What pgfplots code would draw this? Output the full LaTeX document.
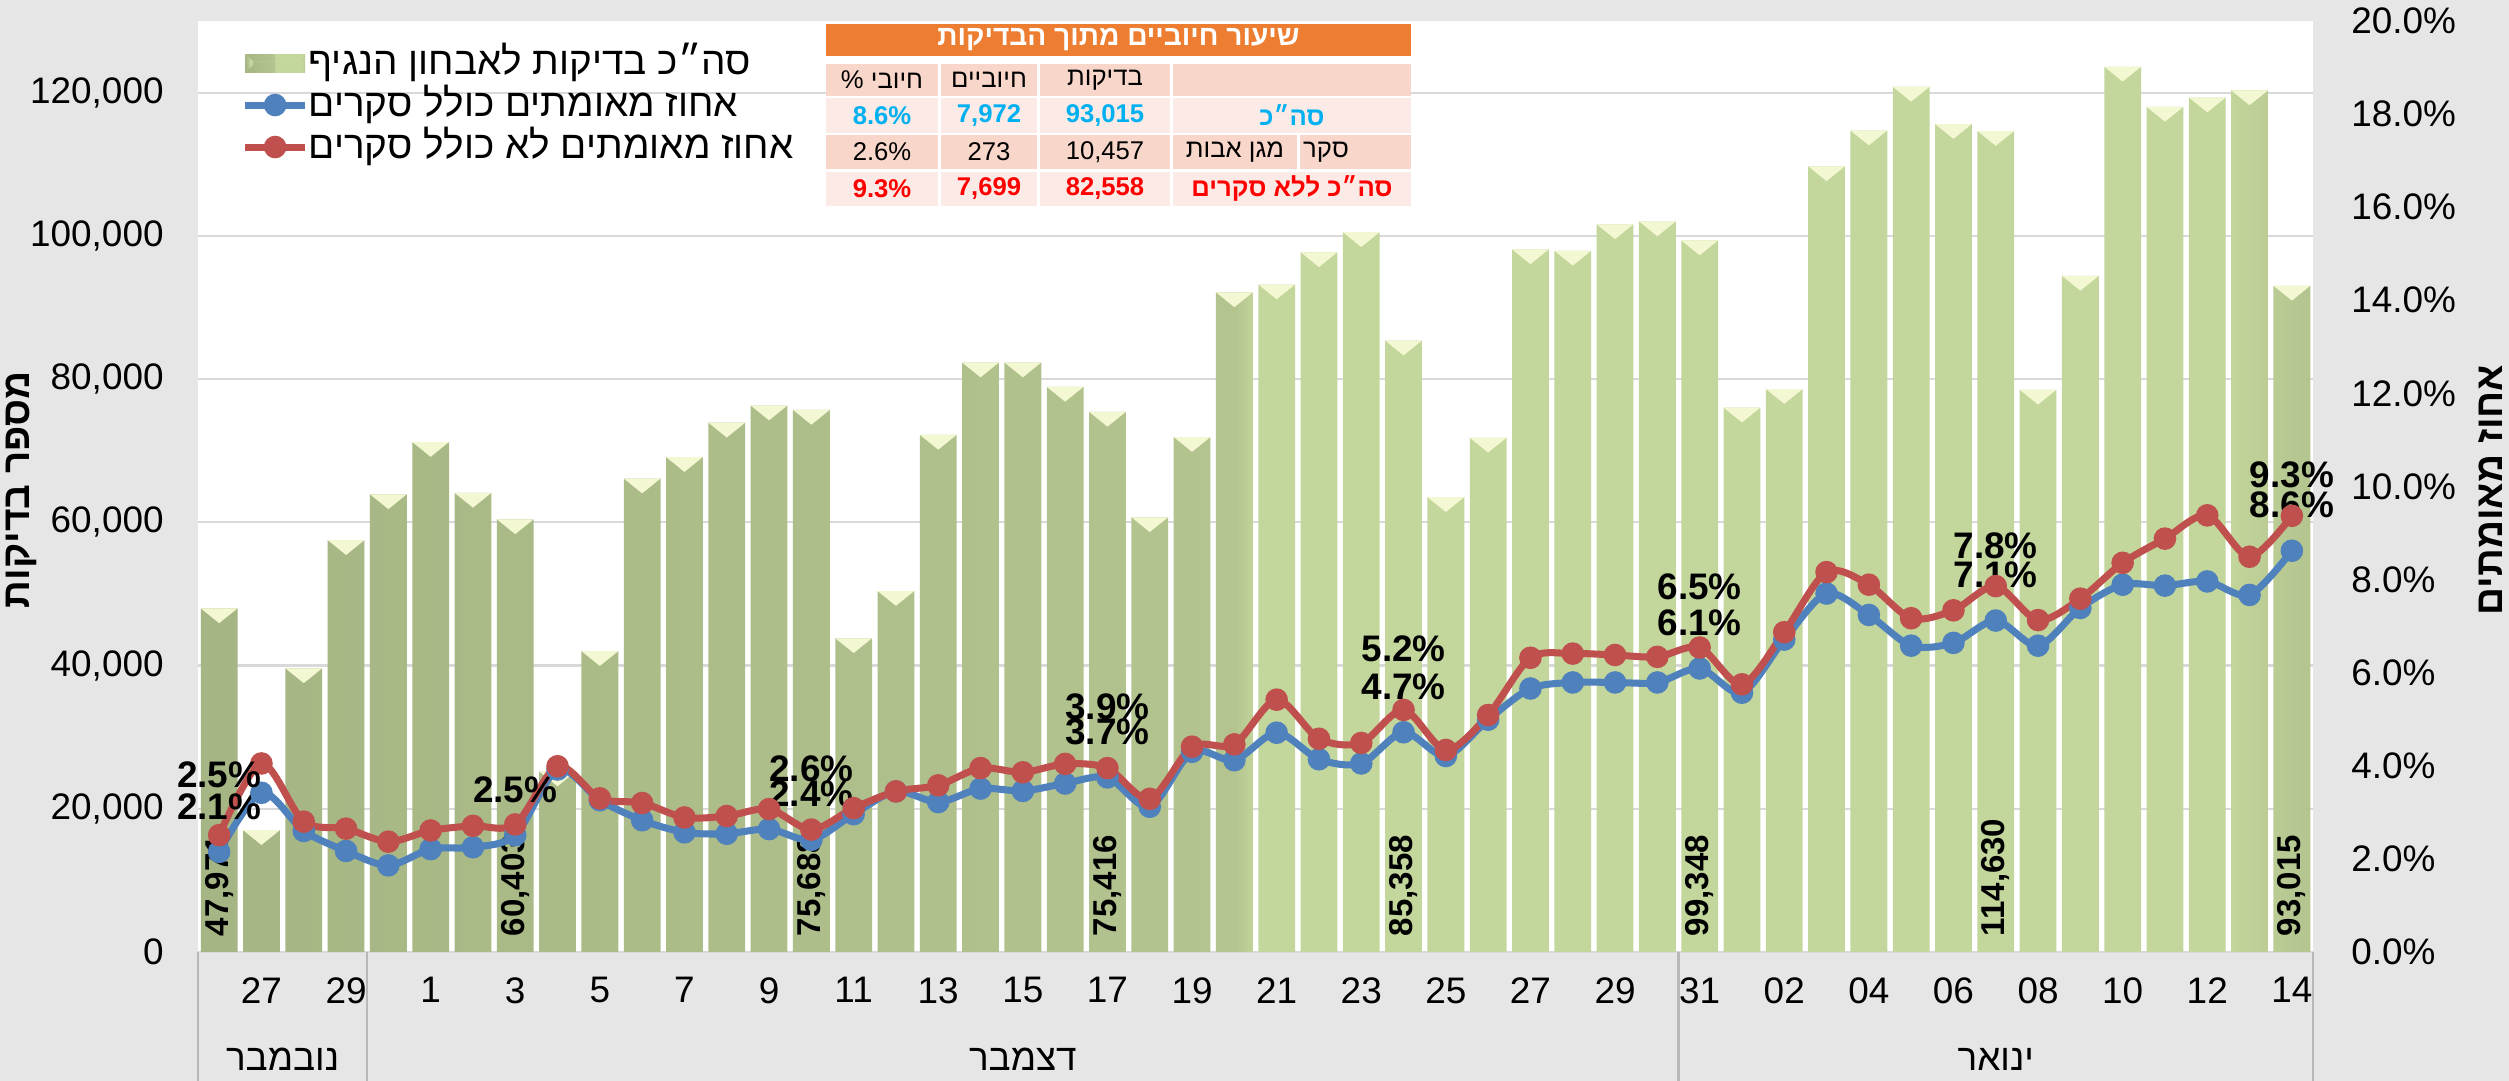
\documentclass[border=0pt]{standalone}
\usepackage{fontspec}
\setmainfont{Liberation Sans}
\newfontfamily\heb[Script=Hebrew]{Liberation Sans}
\usepackage{pgfplots}
\usepackage{pgfplotstable}
\pgfplotsset{compat=1.18}
\TeXXeTstate=1

\definecolor{bg}{HTML}{E6E6E6}
\definecolor{gridc}{HTML}{D9D9D9}
\definecolor{bardk}{HTML}{A5B684}
\definecolor{barmd}{HTML}{B3C48F}
\definecolor{barlt}{HTML}{C3D69B}
\definecolor{bevel}{HTML}{F4F8D2}
\definecolor{lblue}{HTML}{4F81BD}
\definecolor{lred}{HTML}{C0504D}
\definecolor{orng}{HTML}{ED7D31}
\definecolor{peach}{HTML}{F8D6CA}
\definecolor{pale}{HTML}{FBEAE5}
\definecolor{tblue}{HTML}{00B0F0}
\definecolor{tred}{HTML}{FF0000}

\pgfdeclarehorizontalshading{barshade}{100bp}{color(0bp)=(bardk); color(25bp)=(bardk); color(49.5bp)=(barmd); color(50bp)=(barlt); color(73bp)=(barlt); color(75bp)=(barmd); color(100bp)=(barmd)}

\pgfdeclareplotmark{bevel}{%
  \pgfpathmoveto{\pgfqpoint{-5.2pt}{0pt}}%
  \pgfpathlineto{\pgfqpoint{5.2pt}{0pt}}%
  \pgfpathlineto{\pgfqpoint{0pt}{-4.2pt}}%
  \pgfpathclose\pgfusepathqfill}

% tests per day, 26 Nov - 14 Jan
\pgfplotstableread{
i n
0 47971
1 17000
2 39600
3 57500
4 63900
5 71200
6 64100
7 60403
8 25200
9 42000
10 66100
11 69100
12 73900
13 76300
14 75688
15 43800
16 50400
17 72200
18 82300
19 82300
20 78900
21 75416
22 60700
23 71900
24 92100
25 93200
26 97700
27 100500
28 85358
29 63500
30 71800
31 98100
32 97900
33 101600
34 102000
35 99348
36 76000
37 78600
38 109700
39 114700
40 120800
41 115600
42 114630
43 78500
44 94400
45 123600
46 118000
47 119300
48 120300
49 93015
}\bars

\pgfplotstableread{
i y lab
0 0 47,971
7 0 60,403
14 0 75,688
21 0 75,416
28 0 85,358
35 0 99,348
42 0 114,630
49 0 93,015
}\barlabels

% percent positive incl. surveys
\pgfplotstableread{
i p lab
0 2.15 2.1\%
1 3.42 {}
2 2.60 {}
3 2.17 {}
4 1.86 {}
5 2.21 {}
6 2.25 {}
7 2.51 2.5\%
8 3.92 {}
9 3.26 {}
10 2.83 {}
11 2.57 {}
12 2.54 {}
13 2.64 {}
14 2.41 2.4\%
15 2.96 {}
16 3.45 {}
17 3.22 {}
18 3.51 {}
19 3.46 {}
20 3.62 {}
21 3.75 3.7\%
22 3.12 {}
23 4.30 {}
24 4.12 {}
25 4.71 {}
26 4.14 {}
27 4.05 {}
28 4.72 4.7\%
29 4.21 {}
30 4.99 {}
31 5.66 {}
32 5.79 {}
33 5.79 {}
34 5.79 {}
35 6.09 6.1\%
36 5.57 {}
37 6.71 {}
38 7.70 {}
39 7.24 {}
40 6.58 {}
41 6.64 {}
42 7.12 7.1\%
43 6.58 {}
44 7.39 {}
45 7.89 {}
46 7.87 {}
47 7.96 {}
48 7.67 {}
49 8.62 8.6\%
}\bluetab

% percent positive without surveys
\pgfplotstableread{
i p lab
0 2.51 2.5\%
1 4.05 {}
2 2.80 {}
3 2.65 {}
4 2.37 {}
5 2.61 {}
6 2.71 {}
7 2.74 {}
8 3.99 {}
9 3.30 {}
10 3.20 {}
11 2.89 {}
12 2.92 {}
13 3.07 {}
14 2.63 2.6\%
15 3.09 {}
16 3.45 {}
17 3.58 {}
18 3.95 {}
19 3.86 {}
20 4.04 {}
21 3.95 3.9\%
22 3.29 {}
23 4.41 {}
24 4.46 {}
25 5.42 {}
26 4.58 {}
27 4.49 {}
28 5.20 5.2\%
29 4.34 {}
30 5.09 {}
31 6.32 {}
32 6.41 {}
33 6.38 {}
34 6.34 {}
35 6.54 6.5\%
36 5.75 {}
37 6.87 {}
38 8.16 {}
39 7.89 {}
40 7.17 {}
41 7.34 {}
42 7.86 7.8\%
43 7.13 {}
44 7.59 {}
45 8.36 {}
46 8.88 {}
47 9.38 {}
48 8.49 {}
49 9.37 9.3\%
}\redtab

\pgfplotsset{
  base/.style={
    at={(1.98cm,1.29cm)}, anchor=south west,
    width=21.15cm, height=9.31cm, scale only axis,
    xmin=-0.5, xmax=49.5,
    axis line style={draw=none},
    major tick length=0pt,
    tick label style={font=\fontsize{10.5}{12}\selectfont},
    /pgf/number format/assume math mode=true,
  },
}
\tikzset{lbl/.style={font=\bfseries\fontsize{10.5}{12}\selectfont, black, anchor=south, inner sep=0pt}}

\begin{document}
\begin{tikzpicture}
\fill[bg] (0,0) rectangle (25.09,10.81);
\useasboundingbox (0,0) rectangle (25.09,10.81);

\begin{axis}[base,
  ymin=0, ymax=130000,
  axis background/.style={fill=white},
  ytick={0,20000,...,120000},
  ymajorgrids, major grid style={gridc, line width=0.6pt},
  scaled y ticks=false,
  /pgf/number format/fixed,
  /pgf/number format/1000 sep={,},
  yticklabel style={xshift=-0.22cm},
  xtick={1,3,...,49},
  xticklabels={27,29,1,3,5,7,9,11,13,15,17,19,21,23,25,27,29,31,02,04,06,08,10,12,14},
  xticklabel style={yshift=-0.13cm},
  clip=false,
  legend style={at={(0.0203,0.976)}, anchor=north west, draw=none, fill=none,
    font=\fontsize{11}{13}\selectfont, row sep=0.04cm, inner sep=0pt,
    nodes={inner sep=0pt, text height=0.3cm, text depth=0.08cm},
    /tikz/every even column/.append style={column sep=0.06cm}},
  legend cell align=left,
]
\addplot[ybar, bar width=0.87, draw=none, shading=barshade,
  legend image code/.code={
    \fill[barlt] (0cm,-0.09cm) rectangle (0.6cm,0.09cm);
    \fill[bardk] (0cm,-0.09cm) -- (0.08cm,-0.02cm) -- (0.08cm,0.02cm) -- (0cm,0.09cm) -- cycle;
    \fill[bevel] (0cm,0.09cm) -- (0.6cm,0.09cm) -- (0.52cm,0.02cm) -- (0.08cm,0.02cm) -- cycle;
  }] table[x=i, y=n] {\bars};
\addlegendentry{\heb\beginR סה״כ בדיקות לאבחון הנגיף\endR}
\addplot[forget plot, only marks, mark=bevel, color=bevel] table[x=i, y=n] {\bars};
\addplot[forget plot, draw=none, mark=none, nodes near coords, point meta=explicit symbolic,
  nodes near coords style={rotate=90, anchor=west, inner sep=0pt, inner xsep=0.15cm,
    font=\bfseries\fontsize{9.4}{11}\selectfont, black}]
  table[x=i, y=y, meta=lab] {\barlabels};
\addlegendimage{lblue, line width=2pt, mark=*, mark size=2.2pt}
\addlegendentry{\heb\beginR אחוז מאומתים כולל סקרים\endR}
\addlegendimage{lred, line width=2pt, mark=*, mark size=2.2pt}
\addlegendentry{\heb\beginR אחוז מאומתים לא כולל סקרים\endR}

\pgfplotsinvokeforeach{-0.5,3.5,34.5,49.5}{
  \draw[gridc!85!black, line width=0.6pt] (axis cs:#1,0) -- ([yshift=-1.29cm]axis cs:#1,0);
}
\node[font=\heb\fontsize{10.5}{12}\selectfont] at ([yshift=-1.07cm]axis cs:1.5,0) {\beginR נובמבר\endR};
\node[font=\heb\fontsize{10.5}{12}\selectfont] at ([yshift=-1.07cm]axis cs:19,0) {\beginR דצמבר\endR};
\node[font=\heb\fontsize{10.5}{12}\selectfont] at ([yshift=-1.07cm]axis cs:42,0) {\beginR ינואר\endR};
\end{axis}

\begin{axis}[base,
  ymin=0, ymax=20,
  axis y line*=right, axis x line=none,
  xtick=\empty,
  ytick={0,2,...,20},
  yticklabel={\pgfmathprintnumber[fixed, fixed zerofill, precision=1]{\tick}\%},
  yticklabel style={xshift=0.26cm},
  clip=false,
]
\addplot[lblue, line width=2pt, smooth, tension=0.5, mark=*, mark size=2.2pt,
  nodes near coords, point meta=explicit symbolic,
  nodes near coords style={lbl, yshift=0.29cm}]
  table[x=i, y=p, meta=lab] {\bluetab};
\addplot[lred, line width=2pt, smooth, tension=0.5, mark=*, mark size=2.2pt]
  table[x=i, y=p] {\redtab};
% red labels: higher above the point in December, lower in January
\addplot[forget plot, draw=none, mark=none, restrict x to domain=0:36,
  nodes near coords, point meta=explicit symbolic,
  nodes near coords style={lbl, yshift=0.47cm}]
  table[x=i, y=p, meta=lab] {\redtab};
\addplot[forget plot, draw=none, mark=none, restrict x to domain=37:49,
  nodes near coords, point meta=explicit symbolic,
  nodes near coords style={lbl, yshift=0.27cm}]
  table[x=i, y=p, meta=lab] {\redtab};
\end{axis}

% summary table
\fill[white] (8.26,10.57) rectangle (14.11,8.75);
\fill[orng] (8.26,10.57) rectangle (14.11,10.25);
\node[white, font=\heb\bfseries\fontsize{8}{10}\selectfont] at (11.185,10.41) {\beginR שיעור חיוביים מתוך הבדיקות\endR};
\foreach \ya/\yb/\c in {10.17/9.85/peach, 9.83/9.48/pale, 9.46/9.12/peach, 9.09/8.75/pale}{
  \fill[\c] (8.26,\ya) rectangle (9.38,\yb);
  \fill[\c] (9.41,\ya) rectangle (10.37,\yb);
  \fill[\c] (10.40,\ya) rectangle (11.70,\yb);
}
\fill[peach] (11.73,10.17) rectangle (14.11,9.85);
\fill[pale] (11.73,9.83) rectangle (14.11,9.48);
\fill[peach] (11.73,9.46) rectangle (12.97,9.12);
\fill[peach] (13.00,9.46) rectangle (14.11,9.12);
\fill[pale] (11.73,9.09) rectangle (14.11,8.75);
\begin{scope}[every node/.style={font=\heb\fontsize{7.3}{9}\selectfont}]
\node at (8.82,10.01) {\%~חיובי};
\node at (9.89,10.01) {\beginR חיוביים\endR};
\node at (11.05,10.01) {\beginR בדיקות\endR};
\node[tblue, font=\bfseries\fontsize{7.3}{9}\selectfont] at (8.82,9.655) {8.6\%};
\node[tblue, font=\bfseries\fontsize{7.3}{9}\selectfont] at (9.89,9.655) {7,972};
\node[tblue, font=\bfseries\fontsize{7.3}{9}\selectfont] at (11.05,9.655) {93,015};
\node[tblue, font=\heb\bfseries\fontsize{7.3}{9}\selectfont] at (12.92,9.655) {\beginR סה״כ\endR};
\node at (8.82,9.29) {2.6\%};
\node at (9.89,9.29) {273};
\node at (11.05,9.29) {10,457};
\node at (12.35,9.29) {\beginR מגן אבות\endR};
\node at (13.26,9.29) {\beginR סקר\endR};
\node[tred, font=\bfseries\fontsize{7.3}{9}\selectfont] at (8.82,8.92) {9.3\%};
\node[tred, font=\bfseries\fontsize{7.3}{9}\selectfont] at (9.89,8.92) {7,699};
\node[tred, font=\bfseries\fontsize{7.3}{9}\selectfont] at (11.05,8.92) {82,558};
\node[tred, font=\heb\bfseries\fontsize{7.3}{9}\selectfont] at (12.92,8.92) {\beginR סה״כ ללא סקרים\endR};
\end{scope}

% axis titles
\node[rotate=90, font=\heb\bfseries\fontsize{11}{13}\selectfont] at (0.21,5.91) {\beginR מספר בדיקות\endR};
\node[rotate=90, font=\heb\bfseries\fontsize{11}{13}\selectfont] at (24.9,5.91) {\beginR אחוז מאומתים\endR};
\end{tikzpicture}
\end{document}
